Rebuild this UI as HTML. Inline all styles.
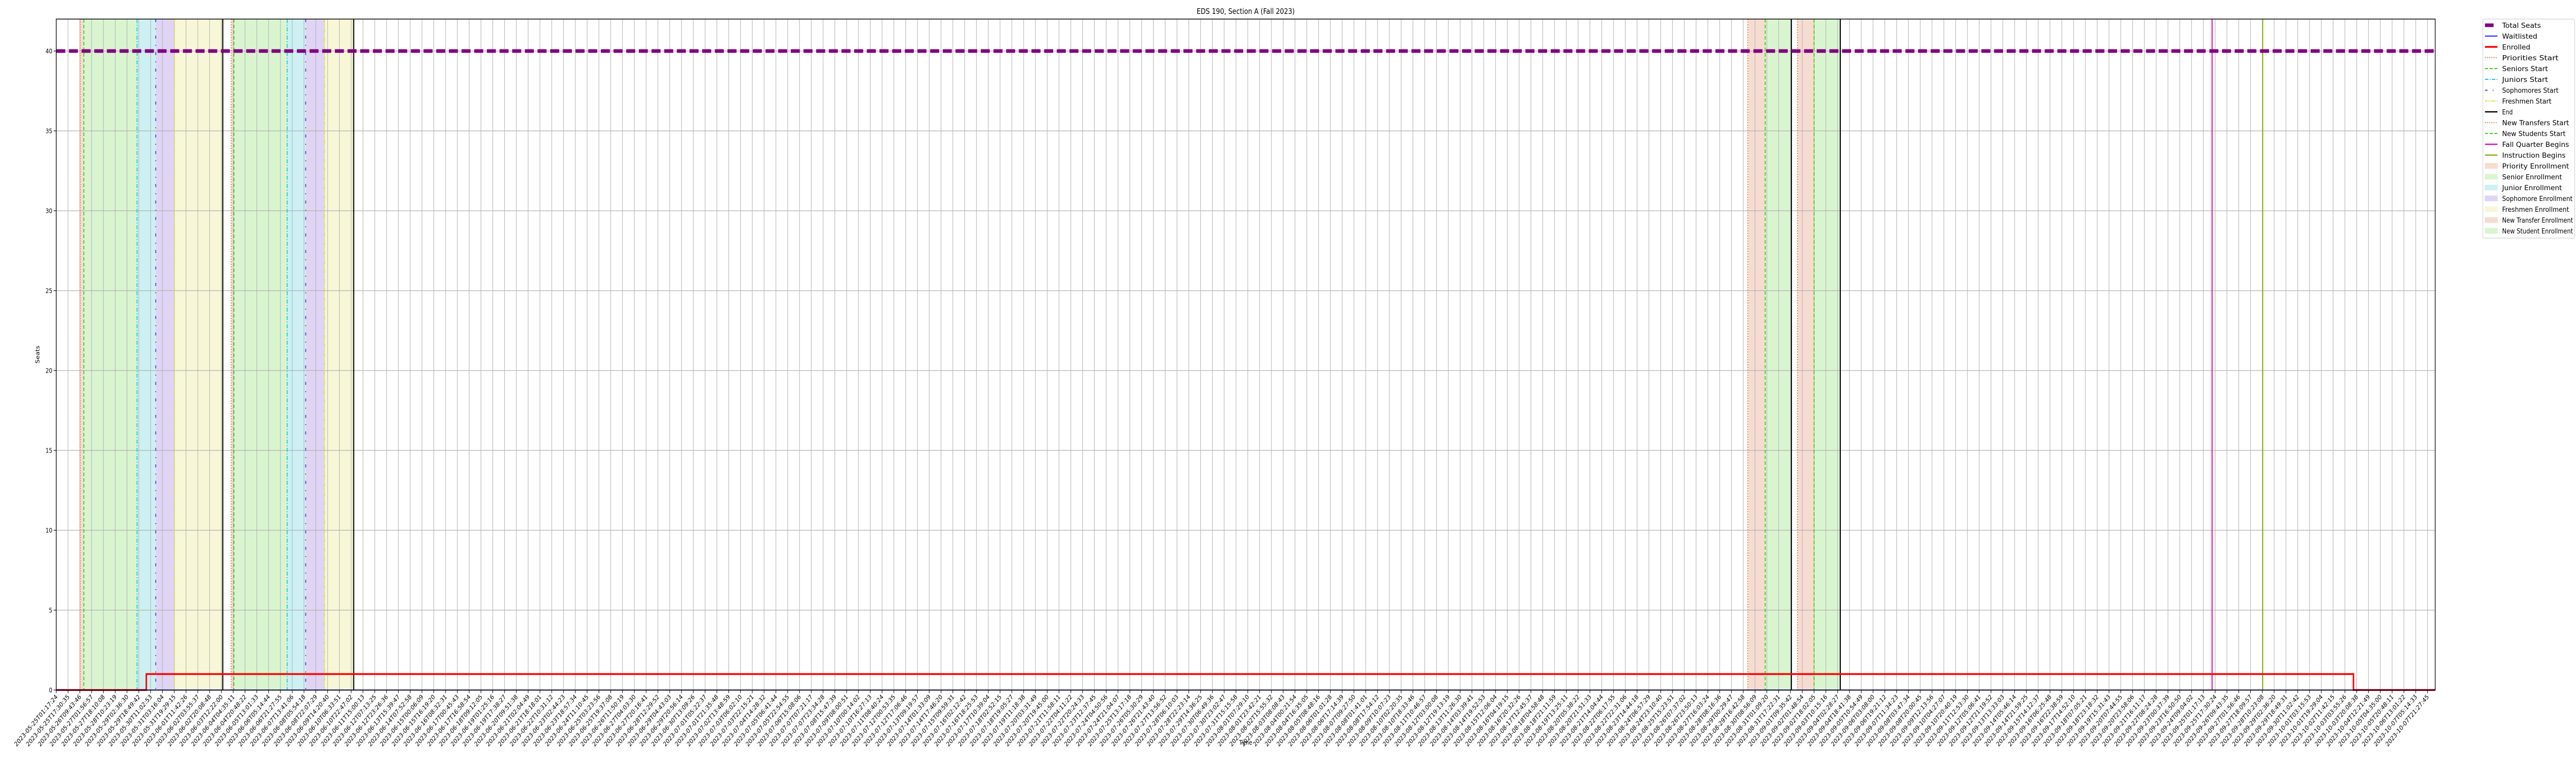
<!DOCTYPE html>
<html><head><meta charset="utf-8">
<style>
html,body{margin:0;padding:0;background:#fff;width:100%;height:100%;overflow:hidden}
svg{display:block;position:fixed;left:0;top:0;width:100vw;height:100vh;font-family:"DejaVu Sans","Liberation Sans",sans-serif}
</style></head><body>
<svg id="chart" xmlns="http://www.w3.org/2000/svg" viewBox="0 0 6000 1500" preserveAspectRatio="none" overflow="hidden">
<rect width="6000" height="1500" fill="#fff"/>
<g id="spans"></g><g id="grid"></g><g id="events"></g><g id="series"></g><g id="axes"></g><g id="legend"></g>
</svg>
<script>
// ---- data (days after 2023-05-25T01:17:24) ----
const tickStart = "2023-05-25T01:17:24";
const tickEnd = "2023-10-07T21:27:45";
const tickCount = 202;
const yTicks = [0,5,10,15,20,25,30,35,40];
const totalSeats = 40;
const enrolledDays = [0, 5.16, 131.6, 136.5];
const enrolledVals = [0, 1, 0, 0];
const waitlistDays = [0, 136.5];
const waitlistVals = [0, 0];
const eventNames = ["Priorities Start","Seniors Start","Juniors Start","Sophomores Start","Freshmen Start","End",
  "Priorities Start","Seniors Start","Juniors Start","Sophomores Start","Freshmen Start","End",
  "New Transfers Start","New Students Start","End","New Transfers Start","New Students Start","End",
  "Fall Quarter Begins","Instruction Begins"];
const eventDays = [1.37,1.58,4.63,5.70,6.77,9.54, 10.02,10.18,13.23,14.29,15.37,17.04,
  96.9,97.9,99.4, 99.75,100.7,102.2, 123.5,126.4];
const spanStarts = [1.37,1.58,4.63,5.70,6.77, 10.02,10.18,13.23,14.29,15.37, 96.9,97.9, 99.75,100.7];
const spanEnds   = [1.58,4.63,5.70,6.77,9.54, 10.18,13.23,14.29,15.37,17.04, 97.9,99.4, 100.7,102.2];
const spanKinds  = ["prio","senior","junior","soph","fresh","prio","senior","junior","soph","fresh","prio","senior","prio","senior"];

// ---- layout ----
const L=131, R=5672, T=37, B=1339;
const xMaxDay = 136.28;
const yMax = 42;
const t0 = Date.parse(tickStart+"Z");
const x = d => L + d/xMaxDay*(R-L);
const y = v => B - v/yMax*(B-T);
const NS="http://www.w3.org/2000/svg";
function mk(tag, attrs, parent){const e=document.createElementNS(NS,tag);for(const k in attrs)e.setAttribute(k,attrs[k]);parent.appendChild(e);return e;}
const G=id=>document.getElementById(id);

const spanFill={prio:"#f6dcd0",senior:"#d9f5d0",junior:"#cdf0f2",soph:"#e0d4f4",fresh:"#f7f7d8"};
const evStyle={
 "Priorities Start":{c:"#f07030",w:2,d:"2,3"},
 "Seniors Start":{c:"#33cc11",w:2,d:"7,4"},
 "Juniors Start":{c:"#11c8d8",w:2,d:"8,3,2,3"},
 "Sophomores Start":{c:"#6633cc",w:2,d:"6,12,2,12"},
 "Freshmen Start":{c:"#e0e030",w:2,d:"8,2,2,2,2,2"},
 "End":{c:"#000",w:2.5,d:""},
 "New Transfers Start":{c:"#f07030",w:2,d:"2,3"},
 "New Students Start":{c:"#33cc11",w:2,d:"7,4"},
 "Fall Quarter Begins":{c:"#e010a0",w:2.5,d:""},
 "Instruction Begins":{c:"#88b010",w:2.5,d:""}};

spanStarts.forEach((s,i)=>{
  const r=mk("rect",{x:x(s),y:T,width:x(spanEnds[i])-x(s),height:B-T,fill:spanFill[spanKinds[i]]},G("spans"));
  
  
});
const axes=G("axes");
const endMs=Date.parse(tickEnd+"Z");
for(let i=0;i<tickCount;i++){
  const ms=t0+(endMs-t0)*i/(tickCount-1);
  const d=(ms-t0)/86400000;
  const px=x(d);
  mk("line",{x1:px,x2:px,y1:T,y2:B,stroke:"#b0b0b0","stroke-width":1.2},G("grid"));
  mk("line",{x1:px,x2:px,y1:B,y2:B+6,stroke:"#000","stroke-width":1.2},axes);
  const lab=new Date(ms).toISOString().slice(0,19);
  const t=mk("text",{x:px+4,y:B+14,"font-size":12.5,"text-anchor":"end",transform:`rotate(-45 ${px+4} ${B+14})`,fill:"#000"},axes);
  t.textContent=lab;
  
  
}
yTicks.forEach(v=>{
  const py=y(v);
  mk("line",{x1:L,x2:R,y1:py,y2:py,stroke:"#b0b0b0","stroke-width":1.2},G("grid"));
  mk("line",{x1:L-6,x2:L,y1:py,y2:py,stroke:"#000","stroke-width":1.2},axes);
  const t=mk("text",{x:L-9,y:py+4.5,"font-size":12.5,"text-anchor":"end"},axes);
  t.textContent=v;
  
  
});
eventDays.forEach((d,i)=>{
  const s=evStyle[eventNames[i]];
  const l=mk("line",{x1:x(d),x2:x(d),y1:T,y2:B,stroke:s.c,"stroke-width":s.w,"stroke-dasharray":s.d},G("events"));
  
  
});
const ser=G("series");
const ts=mk("line",{x1:L,x2:R,y1:y(totalSeats),y2:y(totalSeats),stroke:"#800080","stroke-width":7,"stroke-dasharray":"21,8.5"},ser);


function stepPath(ds,vs){let p=`M${x(ds[0])},${y(vs[0])}`;for(let i=1;i<ds.length;i++){p+=`H${x(Math.min(ds[i],xMaxDay))}V${y(vs[i])}`;}return p;}
const en=mk("path",{d:stepPath(enrolledDays,enrolledVals),fill:"none",stroke:"#ff0000","stroke-width":3.5},ser);


const wl=mk("path",{d:stepPath(waitlistDays,waitlistVals),fill:"none",stroke:"#0000ff","stroke-width":1.8},ser);


mk("rect",{x:L,y:T,width:R-L,height:B-T,fill:"none",stroke:"#000","stroke-width":1.5},axes);
const title=mk("text",{x:(L+R)/2,y:27,"font-size":15,"text-anchor":"middle"},axes);title.textContent="EDS 190, Section A (Fall 2023)";


const xl=mk("text",{x:(L+R)/2,y:1445,"font-size":12.5,"text-anchor":"middle"},axes);xl.textContent="Time";


const yl=mk("text",{x:92,y:(T+B)/2,"font-size":12.5,"text-anchor":"middle",transform:`rotate(-90 92 ${(T+B)/2})`},axes);yl.textContent="Seats";


const leg=G("legend");
const legItems=[["Total Seats","line","#800080",7,""],["Waitlisted","line","#0000ff",1.8,""],["Enrolled","line","#ff0000",3.5,""],
["Priorities Start","line","#f07030",2,"2,3"],["Seniors Start","line","#33cc11",2,"7,4"],["Juniors Start","line","#11c8d8",2,"8,3,2,3"],
["Sophomores Start","line","#6633cc",2,"6,12,2,12"],["Freshmen Start","line","#e0e030",2,"6,2,2,2,2,2"],["End","line","#000",2.5,""],
["New Transfers Start","line","#f07030",2,"2,3"],["New Students Start","line","#33cc11",2,"7,4"],["Fall Quarter Begins","line","#e010a0",2.5,""],
["Instruction Begins","line","#88b010",2.5,""],["Priority Enrollment","patch","#f6dcd0"],["Senior Enrollment","patch","#d9f5d0"],
["Junior Enrollment","patch","#cdf0f2"],["Sophomore Enrollment","patch","#e0d4f4"],["Freshmen Enrollment","patch","#f7f7d8"],
["New Transfer Enrollment","patch","#f6dcd0"],["New Student Enrollment","patch","#d9f5d0"]];
const lb=mk("rect",{x:5783,y:37,width:214,height:425,rx:3,fill:"#fff",stroke:"#d0d0d0","stroke-width":1.2},leg);


legItems.forEach((it,i)=>{
  const cy=49+i*21;
  const g=mk("g",{},leg);
  
  
  if(it[1]==="line"){
    const x2 = i===0?5808:5817;
    mk("line",{x1:5788,x2:x2,y1:cy,y2:cy,stroke:it[2],"stroke-width":it[3],"stroke-dasharray":it[4]},g);
  } else {
    mk("rect",{x:5788,y:cy-5,width:29,height:10,fill:it[2],stroke:it[2]},g);
  }
  const t=mk("text",{x:5828,y:cy+5,"font-size":13,textLength:Math.min(165, it[0].length*8.2),lengthAdjust:"spacingAndGlyphs"},g);t.textContent=it[0];
});
</script>
</body></html>
